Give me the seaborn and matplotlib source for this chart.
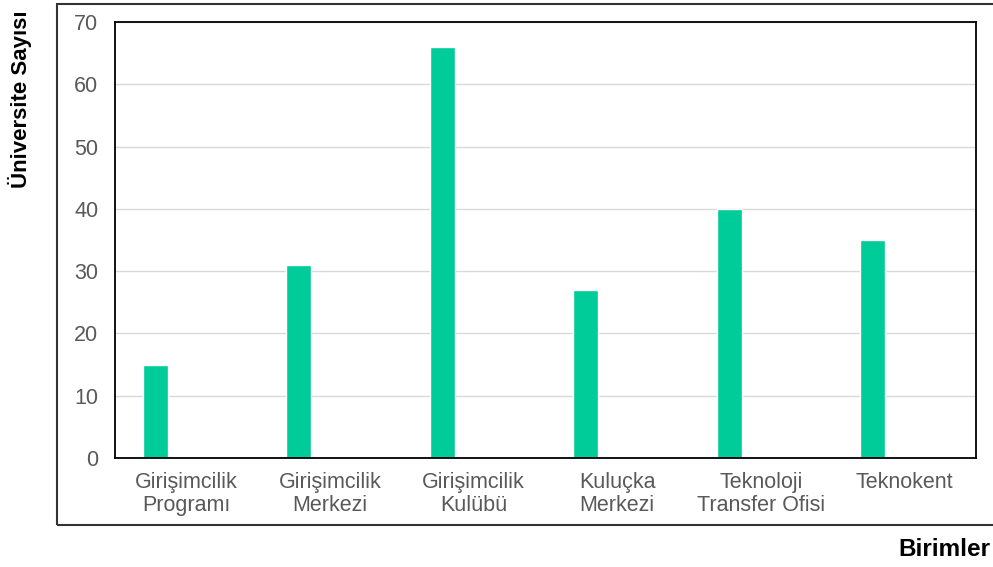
import matplotlib
matplotlib.use("Agg")
import matplotlib.pyplot as plt
import matplotlib.patches as mpatches
import seaborn as sns

# --- Data ---
categories = [
    "Girişimcilik\nProgramı",
    "Girişimcilik\nMerkezi",
    "Girişimcilik\nKulübü",
    "Kuluçka\nMerkezi",
    "Teknoloji\nTransfer Ofisi",
    "Teknokent",
]
values = [15, 31, 66, 27, 40, 35]
y_ticks = [0, 10, 20, 30, 40, 50, 60, 70]

BAR_COLOR = "#00CC99"
TICK_COLOR = "#595959"

sns.set_theme(style="white")
plt.rcParams["font.family"] = ["Liberation Sans", "DejaVu Sans"]

fig = plt.figure(figsize=(9.93, 5.67), dpi=100)
ax = fig.add_axes([0.1158, 0.1922, 0.867, 0.769])

sns.barplot(x=categories, y=values, color=BAR_COLOR, width=0.174,
            saturation=1, ax=ax)
# bars sit left of the category centre (like a first series of a group)
for patch in ax.patches:
    patch.set_x(patch.get_x() - 0.218)

ax.set_xlim(-0.5, len(categories) - 0.5)
ax.set_ylim(0, 70)
ax.set_yticks(y_ticks)
ax.yaxis.grid(True, color="#D9D9D9", linewidth=1)
ax.set_axisbelow(True)
ax.tick_params(axis="both", length=0, labelsize=15.5, colors=TICK_COLOR)
ax.tick_params(axis="y", pad=12)
ax.tick_params(axis="x", pad=10)
for lbl in ax.get_xticklabels():
    lbl.set_linespacing(1.1)
for sp in ax.spines.values():
    sp.set_visible(True)
    sp.set_color("black")
    sp.set_linewidth(1.3)
ax.set_xlabel("")
ax.set_ylabel("")

fig.text(20 / 993, 1 - 10 / 567, "Üniversite Sayısı", rotation=90,
         ha="center", va="top", fontsize=16, fontweight="bold", color="black")
fig.text(990 / 993, 1 - 550 / 567, "Birimler", ha="right", va="center",
         fontsize=17.5, fontweight="bold", color="black")

# outer frame around the chart
frame = mpatches.Rectangle((57 / 993, 1 - 525 / 567), 1.0, (525 - 4) / 567,
                           transform=fig.transFigure, fill=False,
                           edgecolor="#333333", linewidth=1.5, clip_on=False)
fig.patches.append(frame)

fig.savefig("out.png", dpi=100)
